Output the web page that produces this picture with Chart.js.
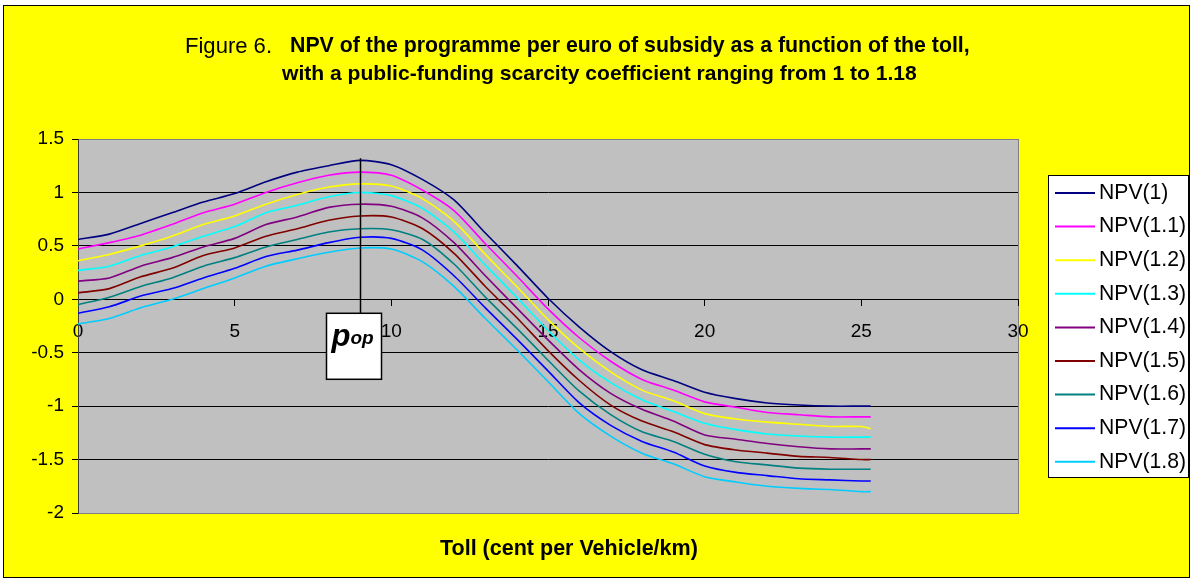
<!DOCTYPE html>
<html>
<head>
<meta charset="utf-8">
<style>
  html, body { margin: 0; padding: 0; background: #fff; }
  #wrap { position: absolute; left: 0; top: 0; width: 1193px; height: 581px; }
</style>
</head>
<body>
<div id="wrap"><canvas id="chart" width="1193" height="581"></canvas></div>
<script src="https://cdn.jsdelivr.net/npm/chart.js@4/dist/chart.umd.min.js"></script>
<script>
// toll in cent per vehicle/km
const toll = [0, 1, 2, 3, 4, 5, 6, 7, 8, 9, 10, 11, 12, 13, 14, 15, 16, 17, 18, 19, 20, 21, 22, 23, 24, 25, 25.3];

const npv1_0 = [0.56, 0.61, 0.71, 0.81, 0.91, 0.99, 1.10, 1.19, 1.25, 1.30, 1.26, 1.12, 0.93, 0.62, 0.32, 0.01, -0.26, -0.49, -0.66, -0.76, -0.87, -0.93, -0.97, -0.99, -1.00, -1.00, -1.00];
const npv1_1 = [0.47, 0.53, 0.60, 0.70, 0.81, 0.89, 1.00, 1.09, 1.16, 1.19, 1.16, 1.02, 0.83, 0.52, 0.22, -0.09, -0.36, -0.58, -0.75, -0.85, -0.96, -1.01, -1.06, -1.08, -1.10, -1.10, -1.10];
const npv1_2 = [0.36, 0.42, 0.50, 0.59, 0.70, 0.78, 0.89, 0.98, 1.05, 1.08, 1.06, 0.94, 0.73, 0.42, 0.12, -0.19, -0.46, -0.68, -0.85, -0.95, -1.07, -1.12, -1.15, -1.17, -1.19, -1.19, -1.21];
const npv1_3 = [0.27, 0.31, 0.41, 0.49, 0.59, 0.68, 0.81, 0.88, 0.96, 1.00, 0.97, 0.85, 0.63, 0.32, 0.02, -0.29, -0.57, -0.78, -0.94, -1.05, -1.16, -1.22, -1.26, -1.28, -1.29, -1.29, -1.29];
const npv1_4 = [0.17, 0.20, 0.31, 0.39, 0.49, 0.57, 0.70, 0.77, 0.86, 0.89, 0.87, 0.76, 0.53, 0.22, -0.08, -0.38, -0.66, -0.88, -1.03, -1.14, -1.27, -1.31, -1.35, -1.38, -1.40, -1.40, -1.40];
const npv1_5 = [0.06, 0.10, 0.21, 0.29, 0.41, 0.48, 0.59, 0.66, 0.74, 0.78, 0.77, 0.66, 0.43, 0.12, -0.17, -0.48, -0.76, -0.99, -1.14, -1.24, -1.36, -1.41, -1.44, -1.47, -1.48, -1.50, -1.50];
const npv1_6 = [-0.05, 0.02, 0.12, 0.20, 0.31, 0.39, 0.49, 0.56, 0.63, 0.66, 0.65, 0.56, 0.33, 0.02, -0.27, -0.57, -0.86, -1.08, -1.24, -1.33, -1.45, -1.52, -1.55, -1.58, -1.59, -1.59, -1.59];
const npv1_7 = [-0.13, -0.07, 0.03, 0.10, 0.20, 0.29, 0.40, 0.46, 0.53, 0.58, 0.57, 0.46, 0.22, -0.08, -0.37, -0.67, -0.97, -1.18, -1.33, -1.43, -1.56, -1.62, -1.65, -1.68, -1.69, -1.70, -1.70];
const npv1_8 = [-0.23, -0.18, -0.08, 0.00, 0.10, 0.20, 0.31, 0.38, 0.44, 0.48, 0.47, 0.35, 0.12, -0.18, -0.47, -0.77, -1.07, -1.28, -1.44, -1.54, -1.66, -1.71, -1.75, -1.77, -1.78, -1.80, -1.80];

const seriesNames = ["NPV(1)", "NPV(1.1)", "NPV(1.2)", "NPV(1.3)", "NPV(1.4)", "NPV(1.5)", "NPV(1.6)", "NPV(1.7)", "NPV(1.8)"];
const seriesValues = [npv1_0, npv1_1, npv1_2, npv1_3, npv1_4, npv1_5, npv1_6, npv1_7, npv1_8];
const seriesColors = ["#000080", "#ff00ff", "#ffff00", "#00ffff", "#800080", "#800000", "#008080", "#0000ff", "#00ccff"];

const xTicks = [0, 5, 10, 15, 20, 25, 30];
const yTicks = [-2, -1.5, -1, -0.5, 0, 0.5, 1, 1.5];
const yTickLabels = ["-2", "-1.5", "-1", "-0.5", "0", "0.5", "1", "1.5"];
const popToll = 9;

const FONT = 'Arial, "Liberation Sans", sans-serif';

// size a font so the text spans the width it has in the picture
function fitFont(ctx, text, style, target) {
  ctx.font = style + " 20px " + FONT;
  const w = ctx.measureText(text).width;
  return style + " " + (20 * target / w).toFixed(2) + "px " + FONT;
}

const decor = {
  id: "decor",
  beforeDraw(chart) {
    const ctx = chart.ctx;
    const a = chart.chartArea;
    ctx.save();
    ctx.fillStyle = "#ffffff";
    ctx.fillRect(0, 0, chart.width, chart.height);
    ctx.fillStyle = "#ffff00";
    ctx.fillRect(3, 5, 1187, 573);
    ctx.strokeStyle = "#000000";
    ctx.lineWidth = 1;
    ctx.strokeRect(3.5, 5.5, 1186, 572);
    ctx.fillStyle = "#c0c0c0";
    ctx.fillRect(a.left, a.top, a.right - a.left, a.bottom - a.top);
    ctx.strokeStyle = "#808080";
    ctx.strokeRect(a.left + 0.5, a.top + 0.5, a.right - a.left, a.bottom - a.top);
    ctx.restore();
  },
  afterDatasetsDraw(chart) {
    const ctx = chart.ctx;
    const xs = chart.scales.x, ys = chart.scales.y;
    const px = Math.round(xs.getPixelForValue(popToll)) + 0.5;
    const y0 = ys.getPixelForValue(0);
    const top = ys.getPixelForValue(1.32);
    ctx.save();
    ctx.strokeStyle = "#000";
    ctx.lineWidth = 1.5;
    ctx.beginPath();
    ctx.moveTo(px, top);
    ctx.lineTo(px, y0 + 14);
    ctx.stroke();
    // p_op label box
    const bx = px - 34, by = y0 + 14, bw = 55, bh = 66;
    ctx.fillStyle = "#fff";
    ctx.fillRect(bx, by, bw, bh);
    ctx.lineWidth = 1.5;
    ctx.strokeRect(bx, by, bw, bh);
    ctx.fillStyle = "#000";
    ctx.textBaseline = "alphabetic";
    ctx.textAlign = "left";
    ctx.font = "italic bold 31px " + FONT;
    ctx.fillText("p", bx + 5, by + 33);
    ctx.font = "italic bold 19px " + FONT;
    ctx.fillText("op", bx + 24, by + 31);
    ctx.restore();
  },
  afterDraw(chart) {
    const ctx = chart.ctx;
    ctx.save();
    ctx.fillStyle = "#000";
    ctx.textAlign = "left";
    ctx.textBaseline = "alphabetic";
    // title
    ctx.font = fitFont(ctx, "Figure 6.", "normal", 87);
    ctx.fillText("Figure 6.", 185, 53);
    const t1 = "NPV of the programme per euro of subsidy as a function of the toll,";
    ctx.font = fitFont(ctx, t1, "bold", 680);
    ctx.fillText(t1, 290, 52);
    const t2 = "with a public-funding scarcity coefficient ranging from 1 to 1.18";
    ctx.font = fitFont(ctx, t2, "bold", 635);
    ctx.fillText(t2, 282, 80);
    // x axis title
    const t3 = "Toll (cent per Vehicle/km)";
    ctx.font = fitFont(ctx, t3, "bold", 258);
    ctx.fillText(t3, 440, 555);

    // legend
    ctx.fillStyle = "#fff";
    ctx.fillRect(1048, 175, 141, 302);
    ctx.strokeStyle = "#000";
    ctx.lineWidth = 1;
    ctx.strokeRect(1048.5, 175.5, 140, 302);
    ctx.font = fitFont(ctx, "NPV(1.1)", "normal", 87);
    ctx.textBaseline = "middle";
    seriesNames.forEach((name, i) => {
      const y = 193 + i * 33.6;
      ctx.strokeStyle = seriesColors[i];
      ctx.lineWidth = 2;
      ctx.beginPath();
      ctx.moveTo(1055, y);
      ctx.lineTo(1095, y);
      ctx.stroke();
      ctx.fillStyle = "#000";
      ctx.fillText(name, 1099, y);
    });
    ctx.restore();
  }
};

new Chart(document.getElementById("chart"), {
  type: "line",
  data: {
    datasets: seriesValues.map((vals, i) => ({
      label: seriesNames[i],
      data: vals.map((v, j) => ({ x: toll[j], y: v })),
      borderColor: seriesColors[i],
      backgroundColor: seriesColors[i],
      borderWidth: 1.6,
      pointRadius: 0,
      tension: 0.25,
      fill: false
    }))
  },
  plugins: [decor],
  options: {
    responsive: false,
    animation: false,
    devicePixelRatio: 1,
    layout: { padding: { left: 0, top: 139, right: 175, bottom: 68 } },
    plugins: {
      legend: { display: false },
      title: { display: false },
      tooltip: { enabled: false }
    },
    scales: {
      x: {
        type: "linear",
        position: { y: 0 },
        min: 0,
        max: 30,
        afterBuildTicks: (s) => { s.ticks = xTicks.map(v => ({ value: v })); },
        grid: { drawOnChartArea: false, tickLength: 6, color: "#000" },
        border: { color: "#000", width: 1 },
        ticks: { color: "#000", font: { family: FONT, size: 19 }, padding: 15, maxRotation: 0, autoSkip: false }
      },
      y: {
        type: "linear",
        min: -2,
        max: 1.5,
        afterBuildTicks: (s) => { s.ticks = yTicks.map(v => ({ value: v })); },
        afterFit: (s) => { s.width = 78; },
        grid: {
          tickLength: 6,
          tickColor: "#000",
          color: (c) => (c.tick && (c.tick.value === 1.5 || c.tick.value === -2)) ? "#808080" : "#000"
        },
        border: { color: "#404040", width: 1 },
        ticks: {
          color: "#000",
          font: { family: FONT, size: 19 },
          padding: 8,
          callback: (v) => yTickLabels[yTicks.indexOf(v)]
        }
      }
    }
  }
});
</script>
</body>
</html>
